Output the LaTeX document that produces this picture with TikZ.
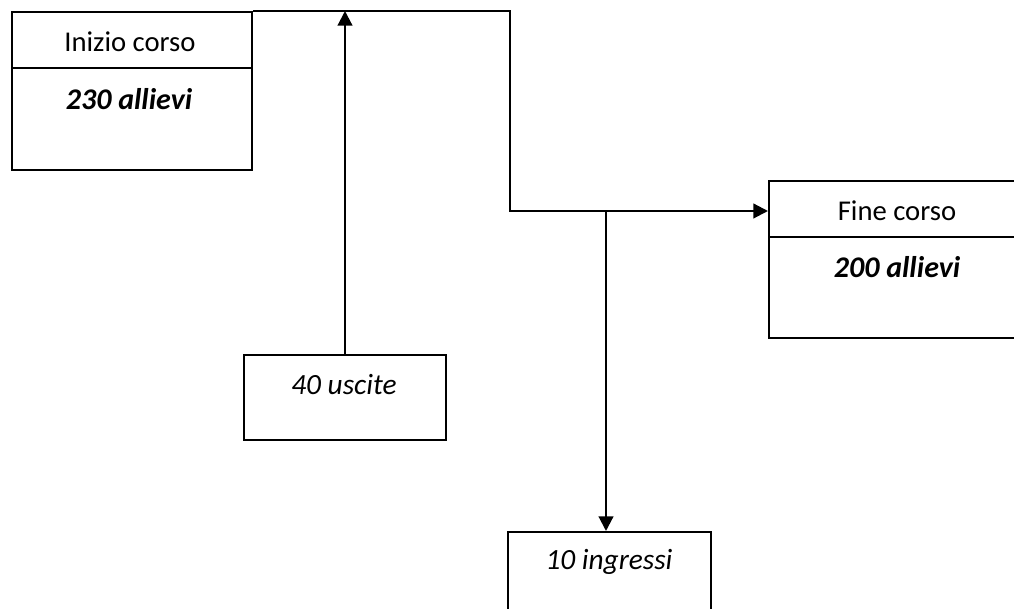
\documentclass[tikz,border=0pt]{standalone}
\usepackage{fontspec}
\setmainfont{Carlito}
\usetikzlibrary{arrows.meta}
\begin{document}
\begin{tikzpicture}[x=0.75pt,y=-0.75pt,
  box/.style={draw,line width=1.6pt,rectangle,inner sep=0pt},
  txt/.style={font=\fontsize{21.5}{26}\selectfont,inner sep=0pt},
  emtxt/.style={font=\fontsize{22.5}{27}\selectfont\bfseries\itshape,inner sep=0pt},
  ittxt/.style={font=\fontsize{22}{26}\selectfont\itshape,inner sep=0pt},
  conn/.style={line width=1.6pt},
  arr/.style={conn,-{Triangle[length=11pt,width=11pt]}}]
\clip (0,0) rectangle (1014,609);
% Inizio corso box
\node[box,anchor=north west,minimum width=240*0.75pt,minimum height=56*0.75pt] (iniTop) at (11,11) {};
\node[box,anchor=north west,minimum width=240*0.75pt,minimum height=102*0.75pt] (iniBot) at (11,67) {};
\node[txt] (iniT) at (130,42) {Inizio corso};
\node[emtxt] (iniN) at (129,99) {230 allievi};
% Fine corso box
\node[box,anchor=north west,minimum width=260*0.75pt,minimum height=56*0.75pt] (finTop) at (768,180) {};
\node[box,anchor=north west,minimum width=260*0.75pt,minimum height=101*0.75pt] (finBot) at (768,236) {};
\node[txt] (finT) at (897,211) {Fine corso};
\node[emtxt] (finN) at (897,267) {200 allievi};
% 40 uscite
\node[box,anchor=north west,minimum width=202*0.75pt,minimum height=85*0.75pt] (usc) at (243,354) {};
\node[ittxt] (uscT) at (344,385) {40 uscite};
% 10 ingressi
\node[box,anchor=north west,minimum width=203*0.75pt,minimum height=100*0.75pt] (ing) at (507,531) {};
\node[ittxt] (ingT) at (609,562) {10 ingressi};
% connectors
\coordinate (j1) at (510,11);
\coordinate (j2) at (510,211);
\coordinate (j3) at (606,211);
\coordinate (t1) at (345,11);
\draw[arr] (iniTop.north east) -- (j1) -- (j2) -- (j2 -| finTop.west);
\draw[arr] (usc.north -| t1) -- (t1);
\draw[arr] (j3) -- (j3 |- ing.north);
\end{tikzpicture}
\end{document}
